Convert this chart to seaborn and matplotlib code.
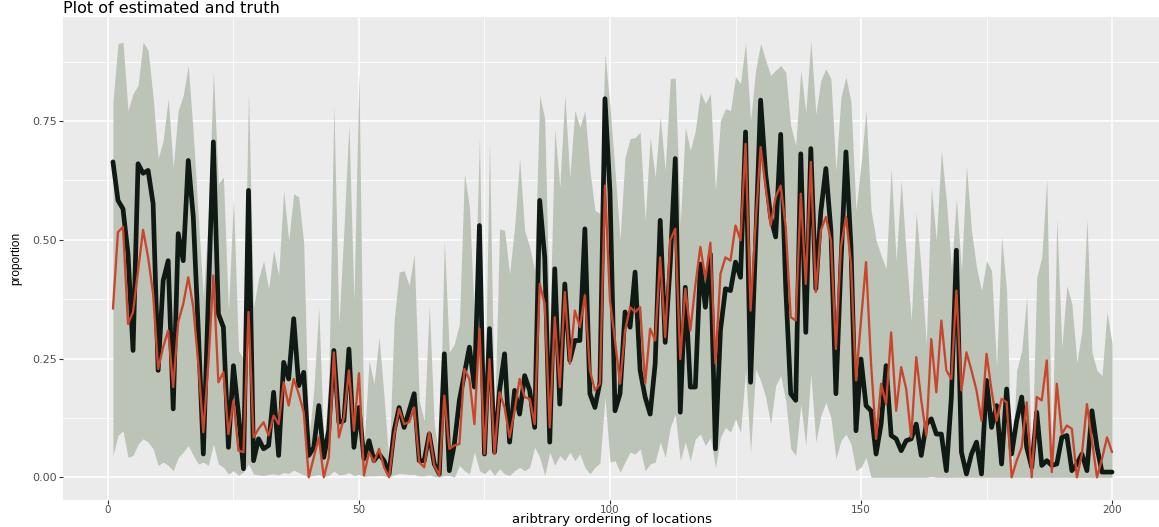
import numpy as np
import pandas as pd
import matplotlib
matplotlib.use("Agg")
import matplotlib.pyplot as plt
import seaborn as sns

# ---------------- data ----------------
location = list(range(1, 201))

truth = [
    0.664, 0.583, 0.565, 0.470, 0.267, 0.660, 0.640, 0.646, 0.576, 0.225,
    0.414, 0.456, 0.144, 0.513, 0.456, 0.667, 0.548, 0.309, 0.049, 0.380,
    0.706, 0.344, 0.316, 0.063, 0.235, 0.133, 0.018, 0.604, 0.035, 0.081,
    0.060, 0.067, 0.179, 0.046, 0.242, 0.207, 0.334, 0.193, 0.221, 0.046,
    0.063, 0.151, 0.042, 0.100, 0.267, 0.116, 0.119, 0.270, 0.063, 0.147,
    0.039, 0.077, 0.035, 0.049, 0.035, 0.007, 0.098, 0.147, 0.105, 0.140,
    0.176, 0.035, 0.035, 0.091, 0.028, 0.007, 0.260, 0.014, 0.070, 0.162,
    0.218, 0.274, 0.190, 0.530, 0.049, 0.313, 0.053, 0.183, 0.260, 0.074,
    0.183, 0.133, 0.214, 0.183, 0.105, 0.583, 0.463, 0.074, 0.439, 0.154,
    0.407, 0.246, 0.288, 0.288, 0.523, 0.176, 0.147, 0.200, 0.797, 0.600,
    0.140, 0.176, 0.348, 0.316, 0.432, 0.225, 0.169, 0.133, 0.239, 0.541,
    0.284, 0.449, 0.671, 0.137, 0.400, 0.190, 0.190, 0.449, 0.358, 0.470,
    0.060, 0.309, 0.397, 0.393, 0.453, 0.421, 0.727, 0.200, 0.492, 0.794,
    0.639, 0.548, 0.506, 0.722, 0.400, 0.176, 0.162, 0.681, 0.305, 0.692,
    0.397, 0.560, 0.650, 0.520, 0.176, 0.450, 0.685, 0.485, 0.098, 0.249,
    0.151, 0.140, 0.049, 0.112, 0.235, 0.088, 0.081, 0.056, 0.077, 0.081,
    0.112, 0.046, 0.112, 0.123, 0.091, 0.091, 0.014, 0.169, 0.478, 0.053,
    0.007, 0.049, 0.074, 0.007, 0.204, 0.105, 0.151, 0.028, 0.186, 0.049,
    0.119, 0.169, 0.063, 0.021, 0.137, 0.025, 0.035, 0.025, 0.028, 0.084,
    0.088, 0.014, 0.028, 0.049, 0.014, 0.140, 0.063, 0.011, 0.011, 0.011,
]

estimate = [
    0.355, 0.516, 0.527, 0.323, 0.348, 0.435, 0.521, 0.463, 0.386, 0.228,
    0.274, 0.309, 0.190, 0.327, 0.365, 0.421, 0.358, 0.239, 0.095, 0.239,
    0.425, 0.200, 0.221, 0.091, 0.162, 0.056, 0.053, 0.348, 0.084, 0.102,
    0.116, 0.088, 0.130, 0.112, 0.200, 0.151, 0.207, 0.176, 0.137, 0.000,
    0.042, 0.084, 0.000, 0.042, 0.263, 0.084, 0.126, 0.225, 0.098, 0.219,
    0.004, 0.053, 0.032, 0.060, 0.021, 0.000, 0.088, 0.144, 0.112, 0.116,
    0.147, 0.032, 0.021, 0.095, 0.025, 0.004, 0.172, 0.060, 0.067, 0.070,
    0.228, 0.207, 0.112, 0.313, 0.049, 0.249, 0.049, 0.179, 0.147, 0.084,
    0.140, 0.207, 0.169, 0.165, 0.112, 0.407, 0.365, 0.105, 0.337, 0.190,
    0.390, 0.239, 0.351, 0.316, 0.383, 0.225, 0.183, 0.197, 0.614, 0.372,
    0.288, 0.197, 0.309, 0.358, 0.348, 0.358, 0.197, 0.313, 0.288, 0.463,
    0.295, 0.499, 0.523, 0.249, 0.397, 0.309, 0.404, 0.485, 0.418, 0.494,
    0.239, 0.428, 0.463, 0.456, 0.530, 0.499, 0.702, 0.351, 0.534, 0.695,
    0.611, 0.530, 0.590, 0.614, 0.527, 0.337, 0.330, 0.597, 0.407, 0.664,
    0.390, 0.520, 0.548, 0.499, 0.270, 0.485, 0.549, 0.449, 0.204, 0.330,
    0.453, 0.239, 0.081, 0.197, 0.154, 0.305, 0.140, 0.232, 0.186, 0.084,
    0.253, 0.162, 0.088, 0.291, 0.179, 0.330, 0.225, 0.207, 0.393, 0.183,
    0.263, 0.225, 0.183, 0.119, 0.260, 0.183, 0.119, 0.165, 0.158, 0.000,
    0.035, 0.063, 0.158, 0.000, 0.169, 0.162, 0.246, 0.011, 0.197, 0.091,
    0.109, 0.102, 0.000, 0.049, 0.154, 0.077, 0.000, 0.039, 0.084, 0.053,
]

upper = [
    0.790, 0.913, 0.916, 0.772, 0.808, 0.825, 0.916, 0.899, 0.800, 0.671,
    0.709, 0.797, 0.653, 0.772, 0.804, 0.867, 0.723, 0.548, 0.379, 0.548,
    0.853, 0.618, 0.632, 0.351, 0.586, 0.267, 0.249, 0.811, 0.358, 0.418,
    0.456, 0.397, 0.478, 0.425, 0.604, 0.499, 0.597, 0.590, 0.492, 0.077,
    0.183, 0.358, 0.063, 0.204, 0.783, 0.323, 0.520, 0.744, 0.372, 0.853,
    0.063, 0.246, 0.197, 0.295, 0.169, 0.028, 0.330, 0.432, 0.435, 0.404,
    0.470, 0.162, 0.119, 0.362, 0.112, 0.042, 0.499, 0.263, 0.281, 0.323,
    0.639, 0.569, 0.330, 0.716, 0.105, 0.706, 0.105, 0.523, 0.520, 0.428,
    0.527, 0.671, 0.520, 0.485, 0.435, 0.804, 0.755, 0.309, 0.734, 0.611,
    0.804, 0.632, 0.772, 0.737, 0.772, 0.646, 0.562, 0.555, 0.892, 0.780,
    0.646, 0.500, 0.674, 0.713, 0.715, 0.727, 0.541, 0.716, 0.632, 0.760,
    0.646, 0.839, 0.841, 0.534, 0.737, 0.688, 0.730, 0.811, 0.787, 0.808,
    0.604, 0.751, 0.776, 0.772, 0.843, 0.829, 0.916, 0.751, 0.857, 0.913,
    0.878, 0.846, 0.857, 0.867, 0.853, 0.740, 0.699, 0.857, 0.769, 0.920,
    0.765, 0.836, 0.860, 0.839, 0.646, 0.800, 0.843, 0.790, 0.562, 0.660,
    0.772, 0.562, 0.499, 0.467, 0.439, 0.650, 0.456, 0.625, 0.470, 0.330,
    0.558, 0.435, 0.281, 0.611, 0.499, 0.688, 0.583, 0.439, 0.586, 0.435,
    0.656, 0.520, 0.442, 0.393, 0.456, 0.435, 0.232, 0.506, 0.393, 0.007,
    0.225, 0.267, 0.379, 0.028, 0.421, 0.463, 0.629, 0.042, 0.544, 0.274,
    0.404, 0.365, 0.242, 0.309, 0.544, 0.263, 0.225, 0.214, 0.348, 0.281,
]

lower = [
    0.046, 0.088, 0.098, 0.042, 0.046, 0.070, 0.081, 0.074, 0.060, 0.025,
    0.032, 0.025, 0.014, 0.042, 0.053, 0.067, 0.046, 0.028, 0.032, 0.025,
    0.070, 0.028, 0.021, 0.007, 0.014, 0.004, 0.011, 0.028, 0.007, 0.005,
    0.004, 0.006, 0.007, 0.005, 0.010, 0.008, 0.015, 0.010, 0.005, 0.002,
    0.004, 0.006, 0.002, 0.004, 0.013, 0.005, 0.006, 0.010, 0.004, 0.006,
    0.002, 0.003, 0.003, 0.004, 0.003, 0.001, 0.005, 0.008, 0.007, 0.006,
    0.006, 0.003, 0.003, 0.005, 0.002, 0.000, 0.004, 0.004, 0.000, 0.025,
    0.014, 0.007, 0.053, 0.014, 0.007, 0.018, 0.004, 0.018, 0.007, 0.004,
    0.014, 0.021, 0.014, 0.021, 0.063, 0.042, 0.004, 0.053, 0.025, 0.046,
    0.035, 0.053, 0.035, 0.049, 0.021, 0.007, 0.021, 0.030, 0.169, 0.032,
    0.035, 0.011, 0.032, 0.053, 0.049, 0.060, 0.014, 0.028, 0.032, 0.074,
    0.042, 0.105, 0.133, 0.035, 0.074, 0.035, 0.081, 0.091, 0.067, 0.084,
    0.021, 0.084, 0.105, 0.095, 0.123, 0.095, 0.225, 0.053, 0.228, 0.204,
    0.169, 0.112, 0.193, 0.214, 0.162, 0.060, 0.046, 0.154, 0.067, 0.218,
    0.074, 0.130, 0.158, 0.126, 0.039, 0.077, 0.091, 0.070, 0.014, 0.021,
    0.042, 0.000, 0.000, 0.000, 0.000, 0.000, 0.000, 0.000, 0.000, 0.000,
    0.000, 0.000, 0.000, 0.002, 0.000, 0.000, 0.000, 0.000, 0.000, 0.000,
    0.000, 0.000, 0.000, 0.000, 0.000, 0.000, 0.000, 0.000, 0.000, 0.000,
    0.000, 0.000, 0.000, 0.000, 0.000, 0.000, 0.000, 0.000, 0.000, 0.000,
    0.000, 0.000, 0.000, 0.000, 0.000, 0.000, 0.000, 0.000, 0.000, 0.000,
]

x_major = [0, 50, 100, 150, 200]
x_minor = [25, 75, 125, 175]
y_major = [0.0, 0.25, 0.50, 0.75]
y_major_labels = ["0.00", "0.25", "0.50", "0.75"]
y_minor = [0.125, 0.375, 0.625, 0.875]

title_text = "Plot of estimated and truth"
x_label = "aribtrary ordering of locations"
y_label = "proportion"

# ---------------- style ----------------
sns.set_theme(style="darkgrid", rc={
    "axes.facecolor": "#EBEBEB",
    "grid.color": "white",
    "axes.edgecolor": "#EBEBEB",
})
plt.rcParams["font.family"] = ["DejaVu Sans"]

W, H = 1159, 527
fig = plt.figure(figsize=(W / 100, H / 100), dpi=100)
fig.patch.set_facecolor("white")

left_px, right_px, top_px, bottom_px = 63, 1162, 17, 500
ax = fig.add_axes([left_px / W, 1 - bottom_px / H,
                   (right_px - left_px) / W, (bottom_px - top_px) / H])
ax.set_facecolor("#EBEBEB")
for s in ax.spines.values():
    s.set_visible(False)

df = pd.DataFrame({"location": location, "truth": truth,
                   "estimate": estimate, "lower": lower, "upper": upper})

ax.fill_between(df["location"], df["lower"], df["upper"],
                color="#BCC4B8", linewidth=0, zorder=2)
sns.lineplot(data=df, x="location", y="truth", color="#0F1A14",
             linewidth=3.4, estimator=None, ax=ax, zorder=3)
sns.lineplot(data=df, x="location", y="estimate", color="#C9452B",
             linewidth=1.65, estimator=None, ax=ax, zorder=4)

ax.set_xlim(-8.95, 209.95)
ax.set_ylim(-0.0478, 0.969)

ax.set_xticks(x_major)
ax.set_xticks(x_minor, minor=True)
ax.set_yticks(y_major)
ax.set_yticklabels(y_major_labels)
ax.set_yticks(y_minor, minor=True)

ax.grid(which="major", color="white", linewidth=1.1, zorder=1)
ax.grid(which="minor", color="white", linewidth=0.55, zorder=1)
ax.set_axisbelow(True)

ax.tick_params(axis="both", which="major", length=2.6, width=0.8,
               color="#333333", labelcolor="#4D4D4D", labelsize=7.5, pad=1.0,
               bottom=True, left=True)
ax.tick_params(axis="y", which="major", pad=2.0, labelsize=8)
ax.tick_params(axis="both", which="minor", length=0)

ax.set_xlabel("")
ax.set_ylabel("")

fig.text(left_px / W, 1 - 13 / H, title_text, ha="left", va="baseline",
         fontsize=11.5, color="black")
fig.text(612 / W, 1 - 523.5 / H, x_label, ha="center", va="baseline",
         fontsize=9.5, color="black")
fig.text(16.5 / W, 1 - 258 / H, y_label, ha="center", va="center",
         rotation=90, fontsize=8.5, color="black",
         family=["Liberation Sans Narrow", "Liberation Sans", "DejaVu Sans"])

fig.savefig("out.png", dpi=100)
